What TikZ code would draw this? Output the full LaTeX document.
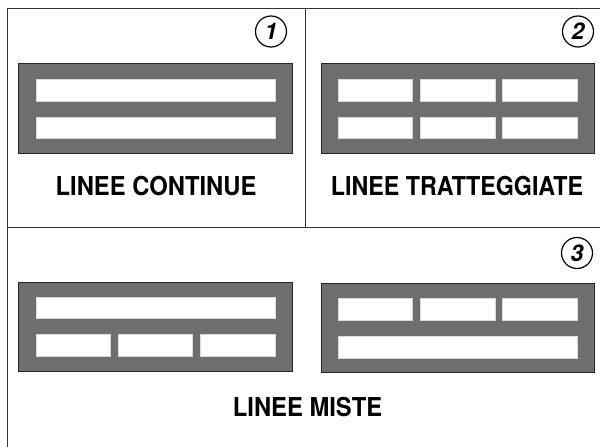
\documentclass[tikz,border=0pt]{standalone}
\usepackage{fontspec}
\setmainfont{TeX Gyre Heros}
\definecolor{platecol}{HTML}{6E6E70}
\newcommand\condense[2]{\scalebox{#1}[1]{#2}}
\begin{document}
\begin{tikzpicture}[x=1pt,y=-1pt,
 frame/.style={draw=black!80, line width=1pt},
 plate/.style={fill=platecol, draw=black!85, line width=0.8pt},
 slot/.style={fill=white, draw=black!15, line width=0.5pt},
 caption/.style={font=\bfseries\fontsize{26}{26}\selectfont, inner sep=0, anchor=base},
 num/.style={circle, draw, line width=1.2pt, minimum size=31pt, inner sep=0, font=\bfseries\itshape\fontsize{23}{23}\selectfont}]
\useasboundingbox (0,0) rectangle (600,447);
% frame
\draw[frame] (7,447) -- (7,8) -- (600,8);
\draw[frame] (7,227) -- (600,227);
\draw[frame] (305,8) -- (305,227);
% panel 1
\draw[plate] (18,63) rectangle (292,153);
\draw[slot] (36,79) rectangle (275,101);
\draw[slot] (36,117) rectangle (275,138);
\node[num] (n1) at (271,31.5) {1};
\node[caption] (t1) at (156,195) {\condense{0.915}{LINEE CONTINUE}};
% panel 2
\draw[plate] (321,63) rectangle (594,153);
\foreach \a/\b in {338/412,420/495,502/577}{
  \draw[slot] (\a,79) rectangle (\b,101);
  \draw[slot] (\a,117) rectangle (\b,138);
}
\node[num] (n2) at (578,31.5) {2};
\node[caption] (t2) at (457,195) {\condense{0.895}{LINEE TRATTEGGIATE}};
% panel 3
\draw[plate] (18,282) rectangle (292,371);
\draw[slot] (36,297) rectangle (275,318);
\foreach \a/\b in {36/110,118/192,200/275}{
  \draw[slot] (\a,334) rectangle (\b,356);
}
\draw[plate] (321,283) rectangle (594,372);
\foreach \a/\b in {338/412,420/495,502/577}{
  \draw[slot] (\a,298) rectangle (\b,320);
}
\draw[slot] (338,336) rectangle (577,358);
\node[num] (n3) at (577,253) {3};
\node[caption] (t3) at (307.5,416) {\condense{0.915}{LINEE MISTE}};
\end{tikzpicture}
\end{document}
